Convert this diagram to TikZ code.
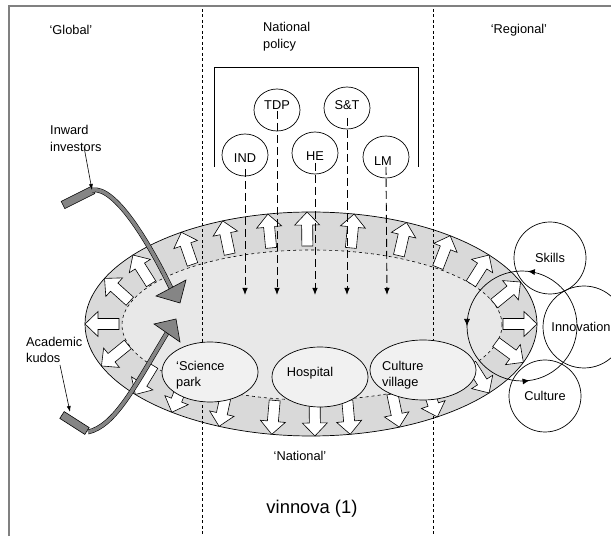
\documentclass[tikz,border=0pt]{standalone}
\usepackage{fontspec}
\setmainfont{Liberation Sans}
\usetikzlibrary{arrows.meta,decorations.markings,shapes.geometric}
\definecolor{bandgray}{HTML}{D9D9D9}
\definecolor{innergray}{HTML}{E8E8E8}
\definecolor{smallfill}{HTML}{F1F1F1}
\definecolor{shaftgray}{HTML}{858585}
\definecolor{framegray}{HTML}{808080}
\begin{document}
\begin{tikzpicture}[x=1pt,y=1pt,
  font=\fontsize{12.8}{16.5}\selectfont,
  lbl/.style={inner sep=0pt, align=left},
  pcirc/.style={ellipse, draw, line width=0.7pt, minimum width=46pt, minimum height=42pt, inner sep=0pt},
  rcirc/.style={circle, draw, line width=0.7pt, inner sep=0pt},
  sell/.style={ellipse, draw, line width=0.7pt, fill=smallfill, inner sep=0pt},
  dotline/.style={line width=0.6pt, dash pattern=on 3pt off 2.5pt},
  dasharr/.style={line width=0.9pt, dash pattern=on 8pt off 4pt, -{Latex[length=7pt,width=5.5pt]}},
  warrow/.style={draw, fill=white, line width=0.6pt, line join=miter},
  shaft/.style={line width=0.6pt, double=shaftgray, double distance=3.6pt},
  gfill/.style={draw, fill=shaftgray, line width=0.6pt, line join=miter},
  lblarr/.style={line width=0.6pt, -{Latex[length=6pt,width=4pt]}}
]
\useasboundingbox (0,0) rectangle (611,536);
\clip (0,0) rectangle (611,536);

% frame
\draw[framegray, line width=1.6pt] (9,0) -- (9,530) -- (611,530);

% big ellipse
\fill[bandgray, draw=black, line width=0.7pt] (311,212) ellipse [x radius=226, y radius=112];
\filldraw[fill=innergray, draw=black, line width=0.6pt, dash pattern=on 3pt off 3pt] (312,211) ellipse [x radius=190, y radius=75];

% dotted vertical separators
\draw[dotline] (202,527) -- (202,0);
\draw[dotline] (433,527) -- (433,0);

% white block arrows around the band
\foreach \t in {180,156,142,125,113,101,91,79,65,52,38,22,0,-20,-38,-56,-67,-80,-89,-100,-114,-128,-141,-158}{
  \pgfmathsetmacro\tx{311+226*cos(\t)}
  \pgfmathsetmacro\ty{212+112*sin(\t)}
  \pgfmathsetmacro\ph{atan2(sin(\t)/112, cos(\t)/226)}
  \draw[warrow, shift={(\tx,\ty)}, rotate=\ph]
    (0,0) -- (-13,12.5) -- (-13,5.5) -- (-34,5.5) -- (-34,-5.5) -- (-13,-5.5) -- (-13,-12.5) -- cycle;
}

% small ellipses
\node[sell, minimum width=96pt, minimum height=60pt] (sp) at (210,164) {};
\node[sell, minimum width=96pt, minimum height=60pt] (hosp) at (320,159) {};
\node[sell, minimum width=106pt, minimum height=60pt] (cv) at (423,166) {};
\node[lbl, anchor=west] (spt) at (176,161) {`Science\\park};
\node[lbl] (hospt) at (310,163) {Hospital};
\node[lbl, anchor=west] (cvt) at (382,161) {Culture\\village};

% headings
\node[lbl] (global) at (71,506) {`Global'};
\node[lbl, anchor=west] (natpol) at (263,499.5) {National\\policy};
\node[lbl] (regional) at (519,506) {`Regional'};
\node[lbl] (national) at (300,80) {`National'};
\node[lbl, font=\fontsize{18.4}{22}\selectfont] (vinnova) at (312,27) {vinnova (1)};

% bracket
\draw[line width=0.8pt] (214,369) -- (214,469) -- (418,469) -- (418,369);

% policy circles
\node[pcirc, label={[lbl, yshift=5pt]center:TDP}] (tdp) at (277,426) {};
\node[pcirc, label={[lbl, yshift=3pt]center:S\&T}] (st) at (347,428) {};
\node[pcirc, label={[lbl, yshift=-3pt]center:IND}] (ind) at (245,381) {};
\node[pcirc, label={[lbl, yshift=-3pt]center:HE}] (he) at (315,383) {};
\node[pcirc, label={[lbl, yshift=-4pt, xshift=-3pt]center:LM}] (lm) at (386,379) {};
\coordinate (tdpe) at (277,241);
\coordinate (ste) at (347,241);
\coordinate (inde) at (245,241);
\coordinate (hee) at (315,241);
\coordinate (lme) at (387,241);
\draw[dasharr] ([yshift=-1pt]tdp.center) -- (tdpe);
\draw[dasharr] ([yshift=-10pt]st.center) -- (ste);
\draw[dasharr] ([yshift=-14pt]ind.center) -- (inde);
\draw[dasharr] ([yshift=-10pt]he.center) -- (hee);
\draw[dasharr] ([yshift=-10pt]lm.center) -- (lme);

% inward investors
\node[lbl, anchor=west] (inward) at (50,397.5) {Inward\\investors};
\coordinate (inbar) at (92,346);
\draw[gfill] (61.2,334.6) -- (91.2,349.6) -- (94.8,342.4) -- (64.8,327.4) -- cycle;
\draw[shaft] (inbar) .. controls (115,350) and (148,295) .. (171,248);
\draw[gfill] (186,256) -- (156,240) -- (180,233) -- cycle;
\coordinate (inlbl) at (84,389);
\draw[lblarr] (inlbl) -- (inbar);

% academic kudos
\node[lbl, anchor=west] (acad) at (26,186) {Academic\\kudos};
\coordinate (acbar) at (88,104);
\draw[gfill] (64.2,124.4) -- (89.2,108.4) -- (84.8,101.6) -- (59.8,117.6) -- cycle;
\draw[shaft] (acbar) .. controls (115,110) and (135,150) .. (167,203);
\draw[gfill] (180,194) -- (154,212) -- (176,217) -- cycle;
\coordinate (aclbl) at (60,171);
\coordinate (acbarl) at (70,124);
\draw[lblarr] (aclbl) -- (acbarl);

% right cluster
\node[rcirc, minimum size=72pt] (skills) at (550,278) {Skills};
\node[rcirc, minimum size=82pt] (innov) at (584,209) {};
\node[lbl] (innovt) at (581,209) {Innovation};
\node[rcirc, minimum size=72pt] (culture) at (545,140) {Culture};
\draw[line width=0.7pt,
  postaction={decorate},
  decoration={markings,
    mark=at position 0.233 with {\arrow{Latex[length=7pt,width=6pt]}},
    mark=at position 0.5 with {\arrow{Latex[length=7pt,width=6pt]}},
    mark=at position 0.772 with {\arrow{Latex[length=7pt,width=6pt]}}}]
  (577,210) arc[start angle=0, end angle=360, radius=55];
\end{tikzpicture}
\end{document}
